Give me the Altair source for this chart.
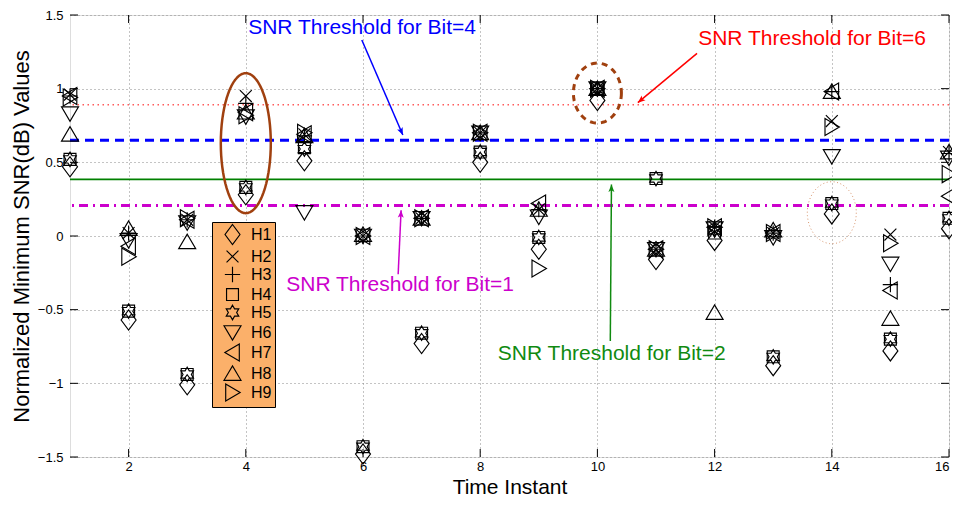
import math
import altair as alt
import pandas as pd

# ---------------- data ----------------
time_instant = list(range(1, 17))
series_names = ["H1", "H2", "H3", "H4", "H5", "H6", "H7", "H8", "H9"]

H1 = [0.47, -0.57, -1.01, 0.28, 0.51, -1.48, -0.73, 0.50, -0.09, 0.92, -0.16, -0.03, -0.88, 0.15, -0.78, 0.05]
H2 = [0.96, 0.02, 0.11, 0.95, 0.69, 0.00, 0.12, 0.70, 0.18, 1.00, -0.09, 0.06, 0.02, 0.78, 0.01, 0.57]
H3 = [0.95, 0.02, 0.11, 0.90, 0.68, 0.00, 0.12, 0.70, 0.18, 1.00, -0.09, 0.06, 0.02, 0.98, -0.33, 0.56]
H4 = [0.52, -0.51, -0.94, 0.33, 0.60, -1.43, -0.66, 0.57, -0.01, 1.00, 0.39, 0.02, -0.82, 0.22, -0.70, 0.12]
H5 = [0.52, -0.51, -0.94, 0.33, 0.59, -1.43, -0.66, 0.57, -0.01, 1.00, 0.39, 0.04, -0.82, 0.22, -0.70, 0.12]
H6 = [0.83, -0.03, 0.09, 0.81, 0.16, 0.00, 0.12, 0.70, 0.13, 1.00, -0.09, 0.05, -0.01, 0.54, -0.19, 0.53]
H7 = [0.95, -0.07, 0.11, 0.84, 0.69, 0.00, 0.12, 0.70, 0.22, 1.00, -0.09, 0.06, 0.02, 0.98, -0.37, 0.27]
H8 = [0.69, 0.05, -0.04, 0.84, 0.68, 0.01, 0.12, 0.70, 0.18, 1.00, -0.09, -0.52, 0.04, 0.98, -0.56, 0.57]
H9 = [0.94, -0.14, 0.12, 0.82, 0.70, 0.00, 0.12, 0.70, -0.22, 1.00, -0.09, 0.06, 0.02, 0.74, -0.05, 0.42]

x_ticks = [2, 4, 6, 8, 10, 12, 14, 16]
y_ticks = [-1.5, -1, -0.5, 0, 0.5, 1, 1.5]

# thresholds
thr_values = [0.89, 0.65, 0.384, 0.207]
thr_colors = ["#FF5A5A", "#0000FF", "#008000", "#CC00CC"]
thr_dashes = [[1.5, 3.5], [9, 6], [1, 0], [9, 5, 2, 5]]
thr_widths = [1.5, 3, 1.6, 3]

# annotation texts
ann_text = ["SNR Threshold for Bit=4", "SNR Threshold for Bit=6", "SNR Threshold for Bit=1", "SNR Threshold for Bit=2"]
ann_x = [4.04, 11.72, 4.69, 8.30]
ann_y = [1.41, 1.34, -0.33, -0.80]
ann_color = ["#0000FF", "#FF0000", "#CC00CC", "#108A10"]
# arrows (start -> tip)
arr_x1 = [5.98, 11.70, 6.60, 10.22]
arr_y1 = [1.33, 1.24, -0.26, -0.713]
arr_x2 = [6.68, 10.69, 6.65, 10.24]
arr_y2 = [0.685, 0.905, 0.175, 0.35]

# highlight ellipses
ell_x = [4, 10, 14]
ell_y = [0.63, 0.97, 0.158]

# ---------------- layout ----------------
W, H = 879, 442
FONT = "Liberation Sans"
X_TITLE = "Time Instant"
Y_TITLE = "Normalized Minimum SNR(dB) Values"

shape_paths = [
    "M0,-1.18L0.88,0L0,1.18L-0.88,0Z",                       # diamond
    "M-0.7,-0.7L0.7,0.7M-0.7,0.7L0.7,-0.7",                  # x
    "M-0.9,0L0.9,0M0,-0.9L0,0.9",                            # +
    "M-0.7,-0.7L0.7,-0.7L0.7,0.7L-0.7,0.7Z",                 # square
    "M0,-0.85L0.245,-0.425L0.736,-0.425L0.49,0L0.736,0.425L0.245,0.425L0,0.85L-0.245,0.425L-0.736,0.425L-0.49,0L-0.736,-0.425L-0.245,-0.425Z",  # hexagram
    "M-1,-0.8L1,-0.8L0,0.9Z",                                # triangle down
    "M0.8,-1L0.8,1L-0.9,0Z",                                 # triangle left
    "M-1,0.8L1,0.8L0,-0.9Z",                                 # triangle up
    "M-0.8,-1L-0.8,1L0.9,0Z",                                # triangle right
]

xscale = alt.Scale(domain=[1, 16], nice=False, zero=False)
yscale = alt.Scale(domain=[-1.5, 1.5], nice=False, zero=False)
xaxis = alt.Axis(values=x_ticks, grid=True, ticks=False, domain=False, labelFontSize=13,
                 labelPadding=3, labelFlush=True, titleFontSize=21, titleFontWeight="normal",
                 titlePadding=3, gridDash=[1, 3], gridColor="#888888", labelFont=FONT, titleFont=FONT,
                 labelColor="black", titleColor="black")
yaxis = alt.Axis(values=y_ticks, format="~g", grid=True, ticks=False, domain=False, labelFontSize=13,
                 labelPadding=7, titleFontSize=22, titleFontWeight="normal", titlePadding=4,
                 gridDash=[1, 3], gridColor="#888888", labelFont=FONT, titleFont=FONT,
                 labelColor="black", titleColor="black")


def X(field):
    return alt.X(field, scale=xscale, axis=xaxis, title=X_TITLE)


def Y(field):
    return alt.Y(field, scale=yscale, axis=yaxis, title=Y_TITLE)


all_series = [H1, H2, H3, H4, H5, H6, H7, H8, H9]
rows = []
for name, vals in zip(series_names, all_series):
    for t, v in zip(time_instant, vals):
        rows.append({"t": t, "v": v, "series": name})
pts_df = pd.DataFrame(rows)

points = alt.Chart(pts_df).mark_point(filled=False, size=289, strokeWidth=1.15, color="black", opacity=1).encode(
    x=X("t:Q"),
    y=Y("v:Q"),
    shape=alt.Shape("series:N", scale=alt.Scale(domain=series_names, range=shape_paths),
                    legend=alt.Legend(title=None, orient="none", legendX=142, legendY=207,
                                      fillColor="#FBB06A", strokeColor="black", padding=3,
                                      rowPadding=-2, symbolSize=289, symbolStrokeWidth=1.15,
                                      symbolStrokeColor="black", symbolFillColor="transparent",
                                      symbolOffset=8, labelOffset=9, labelFontSize=16,
                                      labelFont=FONT, labelColor="black")),
)

layers = []

# threshold lines
for v, c, d, w in zip(thr_values, thr_colors, thr_dashes, thr_widths):
    layers.append(
        alt.Chart(pd.DataFrame({"v": [v]})).mark_rule(color=c, strokeDash=d, strokeWidth=w).encode(
            y=Y("v:Q")
        )
    )

# ellipses
def ellipse_path(rx, ry, n=72):
    pts = []
    for i in range(n):
        a = 2 * math.pi * i / n
        pts.append(f"{rx * math.cos(a):.4f},{ry * math.sin(a):.4f}")
    return "M" + "L".join(pts) + "Z"

ell_df = pd.DataFrame({"t": ell_x, "v": ell_y})
ell_specs = [
    (ellipse_path(25 / 70, 1), 140 ** 2, "#A0400F", 2.5, [1, 0]),
    (ellipse_path(24 / 30, 1), 60 ** 2, "#A0400F", 3, [6, 5]),
    (ellipse_path(24.5 / 31, 1), 62 ** 2, "#D8966E", 1, [1, 2.5]),
]
for i, (p, s, c, w, d) in enumerate(ell_specs):
    layers.append(
        alt.Chart(ell_df.iloc[[i]]).mark_point(shape=p, size=s, filled=False, stroke=c, strokeWidth=w,
                                                 strokeDash=d, opacity=1).encode(
            x=X("t:Q"), y=Y("v:Q")
        )
    )

# arrows
px_x = W / 15.0
px_y = H / 3.0
angles = []
for x1, y1, x2, y2 in zip(arr_x1, arr_y1, arr_x2, arr_y2):
    dx = (x2 - x1) * px_x
    dy = -(y2 - y1) * px_y
    angles.append(math.degrees(math.atan2(dx, -dy)) % 360)

arr_df = pd.DataFrame({"x1": arr_x1, "y1": arr_y1, "x2": arr_x2, "y2": arr_y2,
                       "color": ann_color, "angle": angles})
layers.append(
    alt.Chart(arr_df).mark_rule(strokeWidth=1.5).encode(
        x=X("x1:Q"), y=Y("y1:Q"),
        x2="x2:Q", y2="y2:Q", color=alt.Color("color:N", scale=None)
    )
)
layers.append(
    alt.Chart(arr_df).mark_point(shape="M0,0L-0.6,1.5L0,1.15L0.6,1.5Z", size=100, filled=True, opacity=1).encode(
        x=X("x2:Q"), y=Y("y2:Q"),
        color=alt.Color("color:N", scale=None), angle=alt.Angle("angle:Q", scale=None)
    )
)

# annotation texts
txt_df = pd.DataFrame({"x": ann_x, "y": ann_y, "text": ann_text, "color": ann_color})
layers.append(
    alt.Chart(txt_df).mark_text(align="left", baseline="middle", fontSize=21, font=FONT).encode(
        x=X("x:Q"), y=Y("y:Q"),
        text="text:N", color=alt.Color("color:N", scale=None)
    )
)

# inward tick marks (Matlab style)
xt_df = pd.DataFrame({"t": x_ticks})
yt_df = pd.DataFrame({"v": y_ticks})
layers.append(alt.Chart(xt_df).mark_rule(color="black", strokeWidth=1).encode(
    x=X("t:Q"), y=alt.value(H), y2=alt.value(H - 8)))
layers.append(alt.Chart(xt_df).mark_rule(color="black", strokeWidth=1).encode(
    x=X("t:Q"), y=alt.value(0), y2=alt.value(8)))
layers.append(alt.Chart(yt_df).mark_rule(color="black", strokeWidth=1).encode(
    y=Y("v:Q"), x=alt.value(0), x2=alt.value(8)))
layers.append(alt.Chart(yt_df).mark_rule(color="black", strokeWidth=1).encode(
    y=Y("v:Q"), x=alt.value(W - 8), x2=alt.value(W)))

# markers drawn last, on top
layers.append(points)

chart = alt.layer(*layers).properties(
    width=W, height=H,
    autosize=alt.AutoSizeParams(type="none"),
    padding={"left": 62, "top": 7, "right": 3, "bottom": 41},
    background="white",
).configure_view(stroke="black", strokeWidth=1.2).configure(font=FONT)

chart.save("out.html", embed_options={"renderer": "svg", "actions": False})
